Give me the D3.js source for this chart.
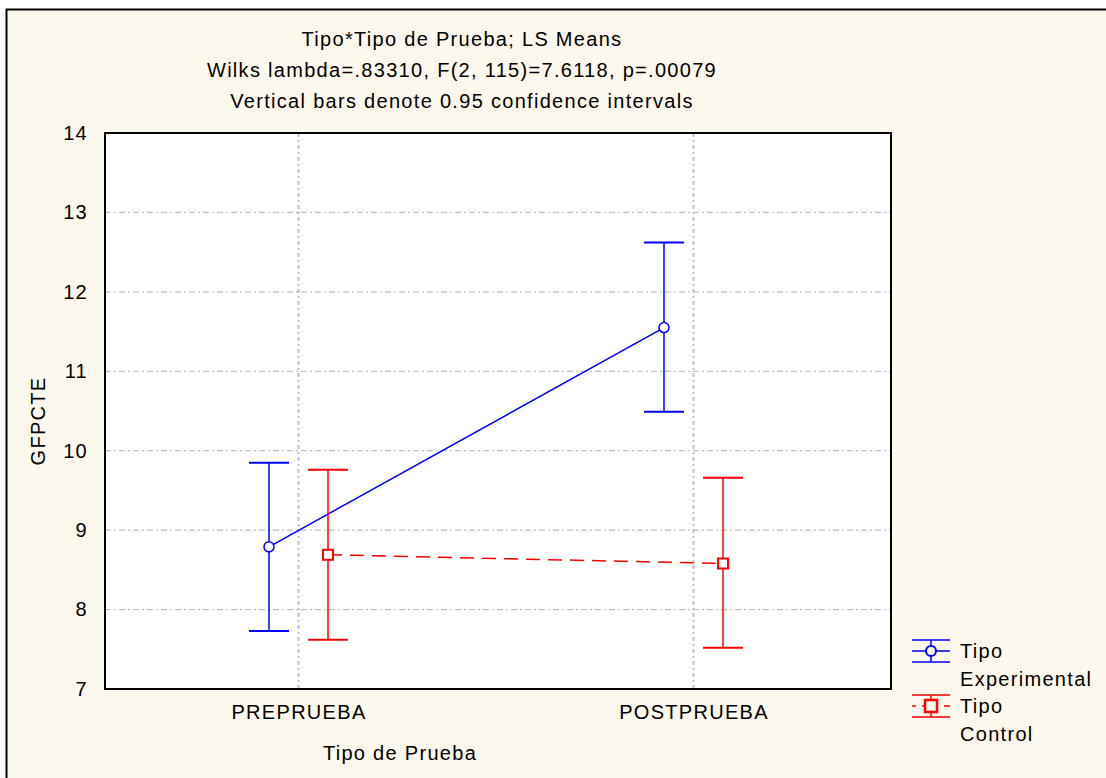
<!DOCTYPE html>
<html>
<head>
<meta charset="utf-8">
<script src="https://cdn.jsdelivr.net/npm/d3@7"></script>
<style>
  body { margin: 0; background: #fff; }
  svg text { font-family: "Liberation Sans", Arial, sans-serif; fill: #000; font-size: 20px; letter-spacing: 1.3px; }
</style>
</head>
<body>
<div id="main"></div>
<script>
// chart data
let categories = ['PREPRUEBA', 'POSTPRUEBA'];
let groups = ['Experimental', 'Control'];
let expMean = [8.79, 11.55];
let expLow = [7.73, 10.49];
let expHigh = [9.85, 12.62];
let ctlMean = [8.69, 8.58];
let ctlLow = [7.62, 7.52];
let ctlHigh = [9.76, 9.66];
let yTicks = [7, 8, 9, 10, 11, 12, 13, 14];
let titleLines = [
  'Tipo*Tipo de Prueba; LS Means',
  'Wilks lambda=.83310, F(2, 115)=7.6118, p=.00079',
  'Vertical bars denote 0.95 confidence intervals'
];

let width = 1106, height = 778;
let margin = {left: 105, right: 215, top: 133, bottom: 89};

let svg = d3.select('#main').append('svg')
  .attr('width', width)
  .attr('height', height);

// cream panel with the dark frame on top and left
svg.append('rect')
  .attr('x', 6).attr('y', 9)
  .attr('width', width - 6).attr('height', height - 9)
  .attr('fill', '#fdf8ee');
svg.append('path')
  .attr('d', 'M6.5,' + height + 'V9.5H' + width)
  .attr('fill', 'none')
  .attr('stroke', '#000')
  .attr('stroke-width', 2);

let x = d3.scaleLinear()
  .domain([-0.5, 1.5])
  .range([margin.left - 4, width - margin.right]);

let y = d3.scaleLinear()
  .domain([7, 14])
  .range([height - margin.bottom, margin.top]);

let plot = svg.append('g');

plot.append('rect')
  .attr('x', margin.left)
  .attr('y', margin.top)
  .attr('width', width - margin.right - margin.left)
  .attr('height', height - margin.bottom - margin.top)
  .attr('fill', '#fff');

// gridlines, dash-dot grey
plot.selectAll('.hgrid')
  .data(yTicks.filter(function(d) { return d > 7 && d < 14; }))
  .enter().append('line')
  .attr('class', 'hgrid')
  .attr('x1', margin.left).attr('x2', width - margin.right)
  .attr('y1', function(d) { return y(d); })
  .attr('y2', function(d) { return y(d); })
  .attr('stroke', '#c0c0c0')
  .attr('stroke-width', 1.3)
  .attr('stroke-dasharray', '6,3,2,3');

plot.selectAll('.vgrid')
  .data(categories)
  .enter().append('line')
  .attr('class', 'vgrid')
  .attr('x1', function(d, i) { return x(i); })
  .attr('x2', function(d, i) { return x(i); })
  .attr('y1', margin.top).attr('y2', height - margin.bottom)
  .attr('stroke', '#c0c0c0')
  .attr('stroke-width', 2)
  .attr('stroke-dasharray', '4,3,2,3');

// axes
let yAxis = d3.axisLeft(y)
  .tickValues(yTicks)
  .tickFormat(d3.format('d'))
  .tickSize(0).tickPadding(17);
let gy = svg.append('g')
  .attr('transform', 'translate(' + margin.left + ',0)')
  .call(yAxis);
gy.select('.domain').remove();
gy.selectAll('text').attr('font-size', null).attr('font-family', null);

let xAxis = d3.axisBottom(x)
  .tickValues([0, 1])
  .tickFormat(function(d) { return categories[d]; })
  .tickSize(0).tickPadding(16);
let gx = svg.append('g')
  .attr('transform', 'translate(0,' + (height - margin.bottom) + ')')
  .call(xAxis);
gx.select('.domain').remove();
gx.attr('font-size', null).attr('font-family', null);
gy.attr('font-size', null).attr('font-family', null);

// series
let offset = 29.5;
let series = [
  {name: groups[0], mean: expMean, low: expLow, high: expHigh, color: '#0000ff', dx: -offset, dash: null, shape: 'circle'},
  {name: groups[1], mean: ctlMean, low: ctlLow, high: ctlHigh, color: '#ff0000', dx: offset, dash: '14,8', shape: 'square'}
];

series.forEach(function(s) {
  let g = plot.append('g');
  let line = d3.line()
    .x(function(d, i) { return x(i) + s.dx; })
    .y(function(d) { return y(d); });

  g.append('path')
    .datum(s.mean)
    .attr('d', line)
    .attr('fill', 'none')
    .attr('stroke', s.color)
    .attr('stroke-width', 1.5)
    .attr('stroke-dasharray', s.dash);

  s.mean.forEach(function(m, i) {
    let cx = x(i) + s.dx;
    g.append('line')
      .attr('x1', cx).attr('x2', cx)
      .attr('y1', y(s.low[i])).attr('y2', y(s.high[i]))
      .attr('stroke', s.color).attr('stroke-width', 1.5);
    [s.low[i], s.high[i]].forEach(function(v) {
      g.append('line')
        .attr('x1', cx - 20).attr('x2', cx + 20)
        .attr('y1', y(v)).attr('y2', y(v))
        .attr('stroke', s.color).attr('stroke-width', 2);
    });
    if (s.shape === 'circle') {
      g.append('circle')
        .attr('cx', cx).attr('cy', y(m)).attr('r', 5)
        .attr('fill', '#fff').attr('stroke', s.color).attr('stroke-width', 1.5);
    } else {
      g.append('rect')
        .attr('x', cx - 5).attr('y', y(m) - 5)
        .attr('width', 10).attr('height', 10)
        .attr('fill', '#fff').attr('stroke', s.color).attr('stroke-width', 2);
    }
  });
});

// plot frame
plot.append('rect')
  .attr('x', margin.left)
  .attr('y', margin.top)
  .attr('width', width - margin.right - margin.left)
  .attr('height', height - margin.bottom - margin.top)
  .attr('fill', 'none')
  .attr('stroke', '#000')
  .attr('stroke-width', 2);

// titles
svg.selectAll('.title')
  .data(titleLines)
  .enter().append('text')
  .attr('class', 'title')
  .attr('x', 462)
  .attr('y', function(d, i) { return 46 + i * 31; })
  .attr('text-anchor', 'middle')
  .text(function(d) { return d; });

svg.append('text')
  .attr('x', 400).attr('y', 760)
  .attr('text-anchor', 'middle')
  .text('Tipo de Prueba');

svg.append('text')
  .attr('transform', 'translate(45,' + 421 + ') rotate(-90)')
  .attr('text-anchor', 'middle')
  .text('GFPCTE');

// legend
let legend = svg.append('g').attr('transform', 'translate(912,0)');
series.forEach(function(s, i) {
  let cy = 651 + i * 55;
  let lg = legend.append('g');
  lg.append('line').attr('x1', 0).attr('x2', 38).attr('y1', cy - 11).attr('y2', cy - 11)
    .attr('stroke', s.color).attr('stroke-width', 1.5);
  lg.append('line').attr('x1', 0).attr('x2', 38).attr('y1', cy + 11).attr('y2', cy + 11)
    .attr('stroke', s.color).attr('stroke-width', 1.5);
  lg.append('line').attr('x1', 19).attr('x2', 19).attr('y1', cy - 11).attr('y2', cy + 11)
    .attr('stroke', s.color).attr('stroke-width', 1.5);
  lg.append('line').attr('x1', 0).attr('x2', 38).attr('y1', cy).attr('y2', cy)
    .attr('stroke', s.color).attr('stroke-width', 1.5)
    .attr('stroke-dasharray', s.dash ? '4,6,6,6' : null);
  if (s.shape === 'circle') {
    lg.append('circle').attr('cx', 19).attr('cy', cy).attr('r', 5)
      .attr('fill', '#fdf8ee').attr('stroke', s.color).attr('stroke-width', 2);
  } else {
    lg.append('rect').attr('x', 13).attr('y', cy - 6).attr('width', 12).attr('height', 12)
      .attr('fill', '#fdf8ee').attr('stroke', s.color).attr('stroke-width', 2.5);
  }
  lg.append('text').attr('x', 48).attr('y', cy + 7).text('Tipo');
  lg.append('text').attr('x', 48).attr('y', cy + 35).text(s.name);
});
</script>
</body>
</html>
